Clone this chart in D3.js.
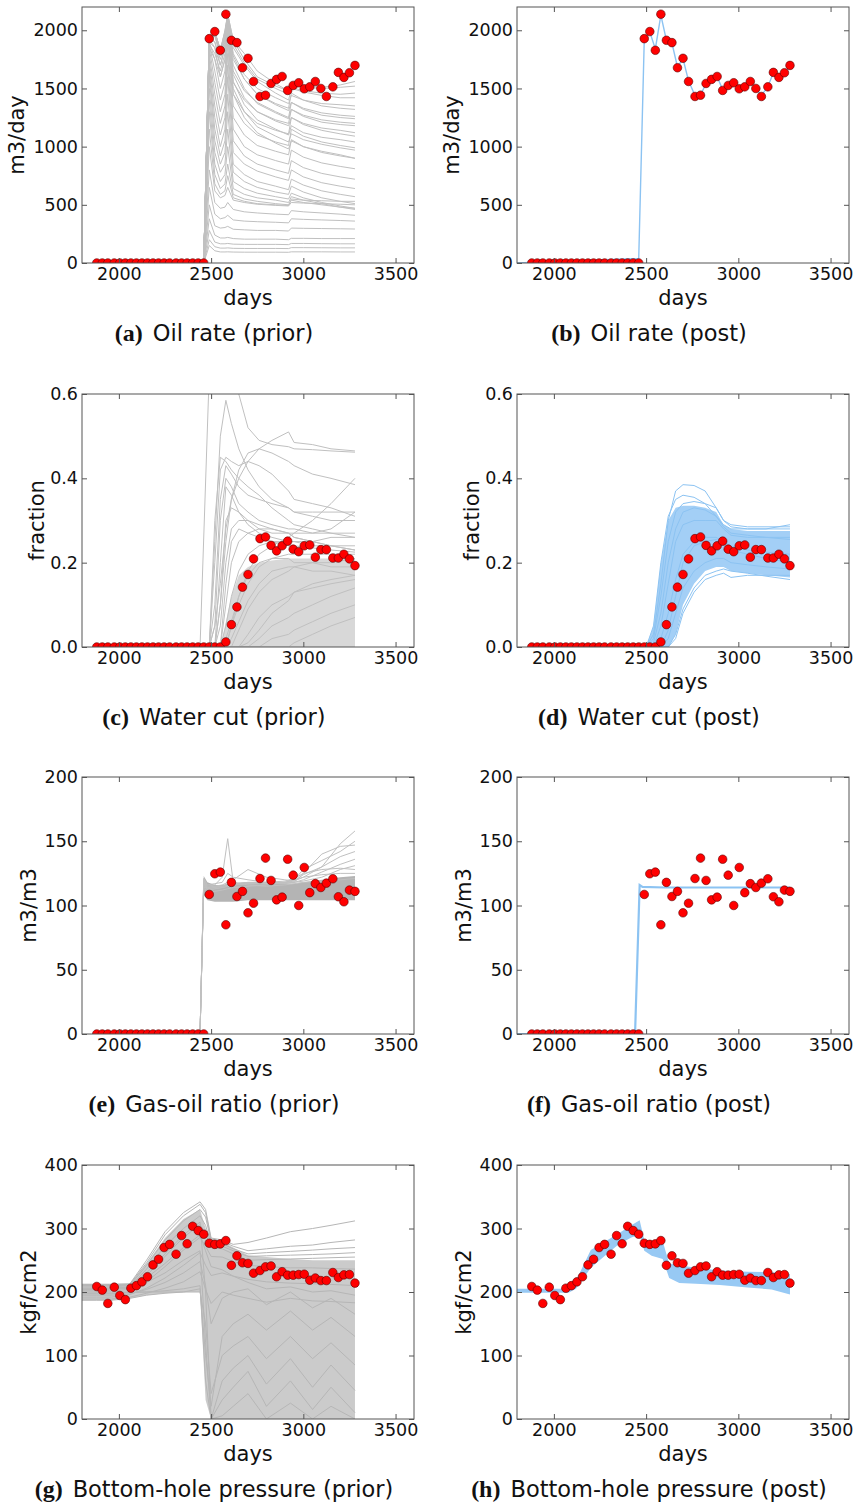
<!DOCTYPE html>
<html>
<head>
<meta charset="utf-8">
<script src="https://cdn.jsdelivr.net/npm/d3@7"></script>
<style>
  body { margin: 0; background: #fff; }
  svg text { font-family: "DejaVu Sans", sans-serif; }
</style>
</head>
<body>
<svg id="fig" width="857" height="1510"></svg>
<script>
// observation times (days) and the red observed points
var obsT = [1880,1910,1940,1975,2005,2035,2065,2095,2125,2155,2185,2215,2245,2275,2310,2340,2370,2400,2430,2460,
  2490,2520,2550,2580,2610,2640,2670,2700,2730,2765,2795,2825,2855,2885,2915,2945,2975,3005,3035,3065,3095,3125,3160,3190,3220,3250,3280];
var obsOil = [0,0,0,0,0,0,0,0,0,0,0,0,0,0,0,0,0,0,0,0,
  1928,1989,1828,2138,1914,1894,1678,1759,1560,1431,1442,1543,1578,1603,1483,1526,1549,1497,1514,1560,1500,1431,1514,1638,1595,1635,1698];
var obsWct = [0,0,0,0,0,0,0,0,0,0,0,0,0,0,0,0,0,0,0,0,0,0,0,
  0.012,0.053,0.095,0.142,0.172,0.209,0.257,0.261,0.241,0.228,0.240,0.251,0.232,0.226,0.240,0.242,0.213,0.231,0.231,0.211,0.211,0.220,0.209,0.193];
var obsGor = [0,0,0,0,0,0,0,0,0,0,0,0,0,0,0,0,0,0,0,0,
  108.6,124.7,126,85,118,107,111,94.3,101.8,121,136.9,119.5,104.4,106.5,136,123.6,100,129.6,110,117,114,117.4,120.8,106.8,102.9,112,111];
var obsBhp = [208.7,203,182,207.6,194.5,188,206,210,216,224,242.7,251.6,270,275,259.5,288.9,276,303.5,296.7,291,
  276.8,275,275.8,281,242,257,246,245,229.6,233.8,239.6,241,224,232,226.5,226.5,227.5,228,218.6,222,218,218,230.7,222.8,227,227.5,214];

// (a) prior oil rate ensemble
var oilT = [2460,2490,2520,2550,2575,2590,2620,2680,2750,2850,2920,2935,3000,3100,3200,3280];
var oilPrior = [
  [0,1928,1989,1828,1990,2138,1914,1800,1650,1540,1480,1530,1520,1510,1530,1560],
  [0,1928,1989,1828,1950,2120,1850,1700,1560,1460,1400,1500,1470,1440,1420,1420],
  [0,1928,1960,1780,1900,2100,1750,1580,1450,1370,1330,1460,1400,1350,1330,1320],
  [0,1928,1900,1700,1850,2080,1650,1480,1380,1300,1250,1380,1320,1270,1250,1240],
  [0,1928,1850,1600,1750,2050,1550,1400,1300,1230,1200,1320,1260,1210,1190,1180],
  [0,1900,1750,1500,1650,2000,1450,1300,1200,1140,1110,1250,1190,1140,1110,1090],
  [0,1880,1650,1400,1550,1950,1350,1200,1100,1040,1010,1150,1090,1040,1010,990],
  [0,1850,1550,1300,1450,1880,1250,1100,1010,960,930,1060,1000,950,920,900],
  [0,1800,1450,1200,1350,1800,1150,1000,930,880,850,970,910,860,830,810],
  [0,1750,1350,1100,1250,1700,1050,920,850,800,770,880,820,770,740,720],
  [0,1700,1250,1000,1150,1600,950,850,790,740,710,800,740,690,660,640],
  [0,1650,1150,920,1050,1450,850,760,700,660,630,720,670,620,590,570],
  [0,1600,1050,850,950,1300,780,700,650,610,590,660,610,560,530,510],
  [0,1500,950,780,850,1150,700,640,600,570,550,600,560,520,490,470],
  [0,1400,850,700,760,1000,640,590,560,540,520,570,540,510,480,460],
  [0,1300,760,640,680,850,590,550,530,510,500,540,520,500,480,470],
  [0,1150,680,590,620,750,560,530,510,500,495,550,540,535,530,530],
  [0,1000,620,560,580,650,540,520,505,495,490,520,515,510,505,500],
  [0,800,520,470,480,520,460,440,430,420,415,450,440,430,420,410],
  [0,650,420,380,390,410,370,360,355,350,345,380,375,370,365,360],
  [0,500,320,300,305,315,290,285,280,280,275,300,298,296,294,292],
  [0,380,240,215,215,220,210,205,205,205,200,212,212,210,210,210],
  [0,280,180,165,165,168,162,160,160,160,158,168,168,166,165,165],
  [0,200,140,128,128,130,126,125,125,125,124,132,132,131,130,130],
  [0,150,105,95,95,96,94,93,93,93,92,96,96,96,95,95],
  [0,1928,1989,1828,2000,2138,1914,1750,1600,1520,1480,1530,1510,1500,1510,1520],
  [0,1928,1989,1828,1980,2130,1880,1720,1580,1500,1450,1510,1480,1460,1450,1460],
  [0,1928,1980,1810,1960,2110,1800,1620,1500,1420,1370,1440,1400,1370,1360,1350],
  [0,1928,1970,1800,1940,2100,1780,1580,1450,1360,1310,1380,1330,1290,1270,1260],
  [0,1928,1950,1780,1920,2080,1700,1500,1370,1290,1240,1320,1270,1230,1210,1200],
  [0,1928,1900,1750,1880,2050,1620,1420,1300,1220,1180,1250,1200,1160,1140,1120],
  [0,1900,1850,1700,1850,2030,1560,1360,1230,1150,1100,1180,1120,1080,1060,1040],
  [0,1880,1800,1650,1800,2000,1500,1300,1170,1090,1040,1110,1060,1020,990,970],
  [0,1850,1750,1600,1750,1970,1450,1250,1120,1030,980,1050,1000,960,930,900]
];
// (b) posterior oil rate
var oilPostT = [1800,2460,2490,2520,2550,2580,2610,2640,2670,2700,2730,2765,2795,2825,2855,2885,2915,2945,2975,3005,3035,3065,3095,3125,3160,3190,3220,3250,3280];
var oilPost = [0,40,1920,1985,1840,2130,1915,1890,1685,1755,1565,1440,1445,1540,1575,1600,1490,1525,1545,1500,1515,1555,1500,1440,1515,1635,1600,1630,1695];

// (c) prior water cut ensemble
var wctT = [2440,2490,2520,2550,2580,2610,2650,2700,2760,2830,2920,2950,3050,3150,3280];
var wctPriorBand = [0,0,0,0,0.06,0.12,0.17,0.19,0.2,0.205,0.21,0.21,0.21,0.21,0.21];
var wctPrior = [
  [0,0.65,0.70,0.72,0.70,0.67,0.60,0.52,0.49,0.48,0.475,0.47,0.468,0.465,0.462],
  [0,0,0.25,0.5,0.585,0.53,0.47,0.42,0.38,0.35,0.33,0.32,0.31,0.30,0.30],
  [0,0,0.2,0.42,0.45,0.44,0.43,0.44,0.43,0.41,0.37,0.35,0.34,0.33,0.31],
  [0,0,0.05,0.15,0.28,0.35,0.40,0.44,0.47,0.49,0.51,0.485,0.48,0.47,0.465],
  [0,0,0,0.1,0.25,0.35,0.42,0.46,0.47,0.46,0.44,0.43,0.41,0.40,0.385],
  [0,0,0,0,0,0.05,0.12,0.18,0.22,0.24,0.26,0.27,0.30,0.34,0.40],
  [0,0,0.1,0.35,0.43,0.41,0.38,0.36,0.35,0.34,0.33,0.32,0.32,0.32,0.32],
  [0,0,0.05,0.3,0.40,0.38,0.34,0.32,0.30,0.29,0.28,0.28,0.27,0.27,0.26],
  [0,0,0,0.2,0.38,0.36,0.32,0.29,0.27,0.26,0.25,0.25,0.25,0.26,0.26],
  [0,0,0,0.1,0.30,0.33,0.32,0.30,0.28,0.27,0.27,0.26,0.25,0.24,0.24],
  [0,0,0,0.05,0.2,0.28,0.30,0.30,0.29,0.28,0.27,0.26,0.25,0.24,0.23],
  [0,0,0,0,0.1,0.2,0.25,0.27,0.28,0.28,0.27,0.27,0.27,0.28,0.32],
  [0,0,0,0,0.05,0.12,0.18,0.22,0.24,0.25,0.25,0.25,0.24,0.24,0.23],
  [0,0,0,0,0,0.05,0.10,0.15,0.19,0.21,0.22,0.22,0.22,0.22,0.22],
  [0,0,0,0,0,0,0.04,0.09,0.13,0.16,0.18,0.19,0.20,0.20,0.21],
  [0,0,0,0,0,0,0,0.03,0.07,0.10,0.12,0.13,0.15,0.16,0.17],
  [0,0,0,0,0,0,0,0,0.02,0.05,0.07,0.08,0.10,0.12,0.14],
  [0,0,0,0,0,0,0,0,0,0.02,0.03,0.04,0.06,0.08,0.10],
  [0,0,0,0,0,0,0,0,0,0,0,0.01,0.03,0.05,0.07],
  [0,0,0,0,0.02,0.06,0.12,0.17,0.20,0.21,0.21,0.20,0.20,0.19,0.19],
  [0,0,0,0,0,0.02,0.06,0.11,0.15,0.18,0.19,0.19,0.18,0.18,0.17],
  [0,0,0,0,0,0,0,0.01,0.04,0.08,0.11,0.13,0.14,0.15,0.16],
  [0,0,0.3,0.45,0.44,0.42,0.40,0.38,0.36,0.33,0.30,0.29,0.28,0.27,0.27],
  [0,0,0,0,0.15,0.25,0.28,0.27,0.26,0.25,0.24,0.24,0.235,0.23,0.225]
];
// (d) posterior water cut ensemble
var wctPostT = [2500,2540,2580,2620,2660,2700,2760,2820,2880,2920,2960,3050,3150,3280];
var wctPostHi = [0,0.05,0.2,0.3,0.33,0.335,0.335,0.33,0.32,0.29,0.28,0.275,0.275,0.275];
var wctPostLo = [0,0,0,0,0.03,0.1,0.15,0.18,0.19,0.19,0.18,0.175,0.17,0.165];
var wctPost = [
  [0,0.03,0.15,0.30,0.37,0.385,0.383,0.37,0.33,0.30,0.29,0.285,0.285,0.285],
  [0,0.05,0.2,0.31,0.35,0.36,0.355,0.34,0.31,0.29,0.28,0.28,0.28,0.28],
  [0,0.02,0.12,0.25,0.32,0.34,0.345,0.34,0.33,0.30,0.285,0.28,0.28,0.29],
  [0,0,0,0,0.02,0.08,0.13,0.16,0.17,0.175,0.165,0.17,0.17,0.17],
  [0,0,0,0,0.03,0.09,0.14,0.17,0.18,0.185,0.18,0.175,0.168,0.16],
  [0,0,0,0.02,0.08,0.14,0.18,0.2,0.21,0.21,0.2,0.195,0.19,0.185],
  [0,0,0.05,0.15,0.25,0.29,0.3,0.3,0.3,0.28,0.265,0.26,0.26,0.26],
  [0,0.01,0.08,0.2,0.28,0.32,0.33,0.325,0.31,0.285,0.27,0.265,0.26,0.255],
  [0,0,0.02,0.08,0.16,0.22,0.25,0.26,0.26,0.25,0.24,0.23,0.225,0.22],
  [0,0,0,0.04,0.12,0.2,0.24,0.25,0.255,0.245,0.23,0.22,0.21,0.2]
];

// (e) prior gas-oil ratio ensemble
var gorT = [2440,2460,2480,2520,2560,2590,2620,2700,2800,2900,2950,3000,3100,3200,3280];
var gorPriorHi = [0,123,118,116,116,117,117,118,117,117,117,118,120,122,123];
var gorPriorLo = [0,108,104,103,103,103,103,104,104,104,104,104,104,104,104];
var gorPrior = [
  [0,120,115,116,122,152,118,116,115,116,117,118,119,120,121],
  [0,121,116,117,118,125,122,120,118,117,118,125,140,146,147],
  [0,119,114,115,116,118,120,128,122,120,119,122,130,148,158],
  [0,118,113,114,115,116,117,118,118,118,120,128,135,142,150],
  [0,117,112,113,114,115,116,117,117,118,119,124,130,138,142],
  [0,116,112,113,114,115,116,117,117,117,118,120,126,132,136],
  [0,118,114,115,115,116,117,118,118,118,118,119,122,128,131],
  [0,117,113,114,115,116,116,117,118,119,121,125,128,129,128],
  [0,115,110,111,112,113,114,115,116,118,120,122,124,125,125]
];
// (f) posterior gas-oil ratio
var gorPostT = [1800,2440,2465,2480,2600,2800,3000,3200,3280];
var gorPost = [0,0,116,114.5,114,114,114,114,114];

// (g) prior bottom-hole pressure ensemble
var bhpT = [1800,1880,1960,2060,2150,2250,2350,2440,2470,2500,2560,2620,2700,2800,2930,3050,3150,3280];
var bhpPriorHi = [213,213,213,213,245,285,315,330,300,285,280,270,258,255,252,250,250,250];
var bhpPriorLo = [187,187,187,190,195,198,200,200,30,0,0,0,0,0,0,0,0,0];
var bhpPrior = [
  [212,212,212,213,250,295,325,342,330,285,282,275,278,285,295,300,305,312],
  [210,210,210,212,246,290,320,338,325,283,280,272,265,268,272,274,278,282],
  [208,208,208,210,242,282,312,330,318,280,276,268,260,262,264,266,268,270],
  [206,206,206,208,236,272,300,320,305,275,272,265,256,257,258,259,260,262],
  [202,202,202,204,226,256,286,306,292,270,268,260,250,251,252,253,254,255],
  [197,197,197,200,216,240,266,286,272,256,255,248,242,240,238,238,237,236],
  [192,192,192,196,206,222,242,262,242,226,230,225,220,216,214,213,212,210],
  [189,189,189,192,198,206,216,232,204,182,200,195,190,184,190,186,185,183],
  [187,187,187,190,195,198,200,205,100,20,130,150,165,140,170,140,160,130],
  [200,200,200,200,200,200,200,200,150,40,100,115,130,95,130,95,120,85],
  [198,198,198,199,200,202,205,210,60,0,60,80,100,55,95,50,85,45],
  [204,204,204,206,215,230,250,265,120,0,30,50,75,20,60,15,50,10],
  [210,210,210,211,230,260,290,310,200,0,5,20,40,0,25,0,20,0],
  [205,205,205,207,222,245,270,290,265,240,235,225,215,205,208,200,202,195],
  [195,195,195,197,204,215,230,248,210,150,190,200,205,180,200,175,190,165]
];
// (h) posterior bottom-hole pressure band
var bhpPostT = [1800,2080,2120,2200,2280,2350,2420,2465,2490,2530,2590,2625,2680,2770,2900,3050,3180,3280];
var bhpPostHi = [205,205,218,266,280,292,305,313,282,275,280,245,242,238,234,232,231,228];
var bhpPostLo = [199,199,205,238,258,275,286,290,265,257,252,222,214,213,211,207,204,196];

var xTicks = [2000, 2500, 3000, 3500];
var captions = [
  ["(a)", "Oil rate (prior)"], ["(b)", "Oil rate (post)"],
  ["(c)", "Water cut (prior)"], ["(d)", "Water cut (post)"],
  ["(e)", "Gas-oil ratio (prior)"], ["(f)", "Gas-oil ratio (post)"],
  ["(g)", "Bottom-hole pressure (prior)"], ["(h)", "Bottom-hole pressure (post)"]
];

var grey = "#c0c0c0";
var blue = "#8cc3f2";
var blueBand = "#a3cff6";

var svg = d3.select("#fig");
var cols = [{left: 82, right: 414, capX: 214}, {left: 517, right: 849, capX: 649}];
var rows = [{top: 7, bottom: 263, lab: 58}, {top: 394, bottom: 647, lab: 38},
            {top: 777, bottom: 1034, lab: 46}, {top: 1165, bottom: 1419, lab: 46}];

function drawPanel(p) {
  var col = cols[p.col], row = rows[p.row];
  var w = col.right - col.left, h = row.bottom - row.top;
  var x = d3.scaleLinear().domain([1800, 3600]).range([0, w]);
  var y = d3.scaleLinear().domain(p.yDomain).range([h, 0]);

  var g = svg.append("g").attr("transform", `translate(${col.left},${row.top})`);
  g.append("clipPath").attr("id", "clip-" + p.id)
    .append("rect").attr("width", w).attr("height", h);
  var plot = g.append("g").attr("clip-path", `url(#clip-${p.id})`);

  // shaded envelope of the ensemble
  if (p.band) {
    var b = p.band;
    var area = d3.area()
      .x((d, i) => x(b.t[i]))
      .y0((d, i) => y(b.lo ? b.lo[i] : 0))
      .y1(d => y(d));
    plot.append("path").datum(b.hi).attr("d", area).attr("fill", b.fill);
  }

  // ensemble members
  if (p.members) {
    var line = d3.line().x((d, i) => x(p.memberT[i])).y(d => y(d));
    plot.append("g").selectAll("path")
      .data(p.members)
      .enter()
      .append("path")
      .attr("d", line)
      .attr("fill", "none")
      .attr("stroke", p.memberColor)
      .attr("stroke-width", 1);
  }

  // single posterior curve
  if (p.curve) {
    var c = p.curve;
    var cline = d3.line().x((d, i) => x(c.t[i])).y(d => y(d));
    plot.append("path").datum(c.v).attr("d", cline)
      .attr("fill", "none").attr("stroke", blue).attr("stroke-width", c.width);
  }

  // observed data
  plot.append("g").selectAll("circle")
    .data(p.obs)
    .enter()
    .append("circle")
    .attr("cx", (d, i) => x(obsT[i]))
    .attr("cy", d => y(d))
    .attr("r", 4.3)
    .attr("fill", "#ff0000")
    .attr("stroke", "#5a0000")
    .attr("stroke-width", 0.6);

  // frame and inward ticks on all sides
  g.append("rect").attr("width", w).attr("height", h)
    .attr("fill", "none").attr("stroke", "#555").attr("stroke-width", 1);

  g.append("g").attr("transform", `translate(0,${h})`)
    .call(d3.axisBottom(x).tickValues(xTicks).tickSize(-5).tickPadding(5).tickFormat(d3.format("d")));
  g.append("g")
    .call(d3.axisTop(x).tickValues(xTicks).tickSize(-5).tickFormat(""));
  g.append("g")
    .call(d3.axisLeft(y).tickValues(p.yTicks).tickSize(-5).tickPadding(4).tickFormat(p.fmt));
  g.append("g").attr("transform", `translate(${w},0)`)
    .call(d3.axisRight(y).tickValues(p.yTicks).tickSize(-5).tickFormat(""));

  g.selectAll(".domain").remove();
  g.selectAll(".tick line").attr("stroke", "#555");
  g.selectAll(".tick text")
    .attr("font-size", 17.5)
    .attr("font-family", "DejaVu Sans")
    .attr("fill", "#111");

  // axis titles
  g.append("text")
    .attr("x", w / 2)
    .attr("y", h + 42)
    .attr("text-anchor", "middle")
    .attr("font-size", 21)
    .attr("fill", "#111")
    .text("days");
  g.append("text")
    .attr("transform", `translate(${-row.lab},${h / 2}) rotate(-90)`)
    .attr("text-anchor", "middle")
    .attr("font-size", 21)
    .attr("fill", "#111")
    .text(p.ylabel);

  // sub caption
  var cap = captions[p.row * 2 + p.col];
  var t = svg.append("text")
    .attr("x", col.capX)
    .attr("y", row.bottom + 78)
    .attr("text-anchor", "middle")
    .attr("fill", "#111");
  t.append("tspan")
    .attr("font-family", "Liberation Serif")
    .attr("font-weight", "bold")
    .attr("font-size", 24)
    .text(cap[0]);
  t.append("tspan")
    .attr("dx", 10)
    .attr("font-family", "DejaVu Sans")
    .attr("font-size", 22.5)
    .text(cap[1]);
}

var fmtInt = d3.format("d");
var fmt1 = d3.format(".1f");

drawPanel({id: "a", row: 0, col: 0, yDomain: [0, 2200], yTicks: [0, 500, 1000, 1500, 2000], fmt: fmtInt,
  ylabel: "m3/day", members: oilPrior, memberT: oilT, memberColor: grey, obs: obsOil});
drawPanel({id: "b", row: 0, col: 1, yDomain: [0, 2200], yTicks: [0, 500, 1000, 1500, 2000], fmt: fmtInt,
  ylabel: "m3/day", curve: {t: oilPostT, v: oilPost, width: 1.4}, obs: obsOil});
drawPanel({id: "c", row: 1, col: 0, yDomain: [0, 0.6], yTicks: [0, 0.2, 0.4, 0.6], fmt: fmt1,
  ylabel: "fraction", band: {t: wctT, hi: wctPriorBand, fill: "#d8d8d8"},
  members: wctPrior, memberT: wctT, memberColor: grey, obs: obsWct});
drawPanel({id: "d", row: 1, col: 1, yDomain: [0, 0.6], yTicks: [0, 0.2, 0.4, 0.6], fmt: fmt1,
  ylabel: "fraction", band: {t: wctPostT, hi: wctPostHi, lo: wctPostLo, fill: blueBand},
  members: wctPost, memberT: wctPostT, memberColor: blue, obs: obsWct});
drawPanel({id: "e", row: 2, col: 0, yDomain: [0, 200], yTicks: [0, 50, 100, 150, 200], fmt: fmtInt,
  ylabel: "m3/m3", band: {t: gorT, hi: gorPriorHi, lo: gorPriorLo, fill: "#b4b4b4"},
  members: gorPrior, memberT: gorT, memberColor: grey, obs: obsGor});
drawPanel({id: "f", row: 2, col: 1, yDomain: [0, 200], yTicks: [0, 50, 100, 150, 200], fmt: fmtInt,
  ylabel: "m3/m3", curve: {t: gorPostT, v: gorPost, width: 2.2}, obs: obsGor});
drawPanel({id: "g", row: 3, col: 0, yDomain: [0, 400], yTicks: [0, 100, 200, 300, 400], fmt: fmtInt,
  ylabel: "kgf/cm2", band: {t: bhpT, hi: bhpPriorHi, lo: bhpPriorLo, fill: "#cbcbcb"},
  members: bhpPrior, memberT: bhpT, memberColor: "#b6b6b6", obs: obsBhp});
drawPanel({id: "h", row: 3, col: 1, yDomain: [0, 400], yTicks: [0, 100, 200, 300, 400], fmt: fmtInt,
  ylabel: "kgf/cm2", band: {t: bhpPostT, hi: bhpPostHi, lo: bhpPostLo, fill: "#97c9f4"}, obs: obsBhp});
</script>
</body>
</html>
